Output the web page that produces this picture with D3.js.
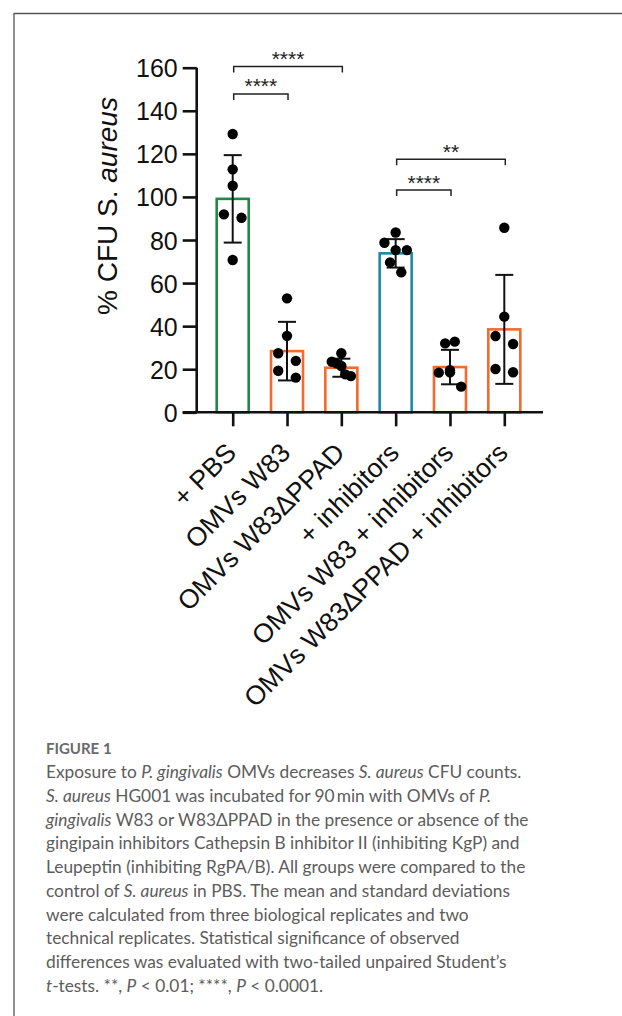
<!DOCTYPE html>
<html>
<head>
<meta charset="utf-8">
<script src="https://cdn.jsdelivr.net/npm/d3@7"></script>
<style>
  html, body { margin: 0; padding: 0; background: #fff; }
  svg { display: block; }
</style>
</head>
<body>
<svg id="chart" width="622" height="1016"></svg>
<script>
// ---------- DATA ----------
const categories = ["+ PBS", "OMVs W83", "OMVs W83\u0394PPAD", "+ inhibitors", "OMVs W83 + inhibitors", "OMVs W83\u0394PPAD + inhibitors"];
const barColors = ["#1f8a43", "#f26a2c", "#f26a2c", "#1b8aa8", "#f26a2c", "#f26a2c"];
const means = [99.1, 28.4, 20.7, 73.8, 21.0, 38.5];
const sds = [20.3, 13.6, 4.2, 6.6, 8.0, 25.3];
const points = [
  [129.2, 112.8, 105.2, 91.9, 90.3, 70.7],
  [52.9, 35.5, 27.4, 23.9, 19.3, 16.1],
  [27.4, 23.5, 22.7, 21.5, 17.6, 16.8],
  [83.5, 78.7, 75.3, 75.3, 69.6, 65.0],
  [32.0, 32.8, 18.4, 19.5, 18.6, 11.9],
  [85.7, 44.4, 35.4, 31.7, 20.1, 18.6]
];
// horizontal jitter of each dot as drawn (in units of bar half-widths)
const jitter = [
  [0, 0, 0, -0.55, 0.55, 0],
  [0, 0, -0.55, 0.55, -0.55, 0.55],
  [0, -0.6, -0.3, 0, 0.25, 0.6],
  [0, -0.7, 0, 0.7, -0.35, 0.35],
  [-0.3, 0.3, -0.7, 0, 0, 0.7],
  [0, 0, -0.55, 0.55, -0.55, 0.55]
];
const yTicks = [0, 20, 40, 60, 80, 100, 120, 140, 160];
const brackets = [
  { a: 0, b: 2, y: 160.5, label: "****" },
  { a: 0, b: 1, y: 147.8, label: "****" },
  { a: 3, b: 5, y: 117.5, label: "**" },
  { a: 3, b: 4, y: 103.2, label: "****" }
];
const captionTitle = "FIGURE 1";
const captionLines = [
  [["Exposure to ", 0], ["P. gingivalis", 1], [" OMVs decreases ", 0], ["S. aureus", 1], [" CFU counts.", 0]],
  [["S. aureus", 1], [" HG001 was incubated for 90\u2009min with OMVs of ", 0], ["P.", 1]],
  [["gingivalis", 1], [" W83 or W83\u0394PPAD in the presence or absence of the", 0]],
  [["gingipain inhibitors Cathepsin B inhibitor II (inhibiting KgP) and", 0]],
  [["Leupeptin (inhibiting RgPA/B). All groups were compared to the", 0]],
  [["control of ", 0], ["S. aureus", 1], [" in PBS. The mean and standard deviations", 0]],
  [["were calculated from three biological replicates and two", 0]],
  [["technical replicates. Statistical significance of observed", 0]],
  [["differences was evaluated with two-tailed unpaired Student\u2019s", 0]],
  [["t", 1], ["-tests. **, ", 0], ["P", 1], [" < 0.01; ****, ", 0], ["P", 1], [" < 0.0001.", 0]]
];

// ---------- LAYOUT ----------
const svg = d3.select("#chart");
const FONT = "'Liberation Sans', Arial, Helvetica, sans-serif";
const axisX = 196.7, axisY0 = 412.3, axisY1 = 67.7, axisRight = 543;

const y = d3.scaleLinear().domain([0, 160]).range([axisY0, axisY1]);
const x = d3.scalePoint().domain(categories).range([232.7, 504.3]);
const barW = 32;

// border (top and left)
svg.append("line").attr("x1", 14).attr("x2", 622).attr("y1", 13.5).attr("y2", 13.5)
  .attr("stroke", "#555").attr("stroke-width", 1.3);
svg.append("line").attr("x1", 14).attr("x2", 14).attr("y1", 13).attr("y2", 1016)
  .attr("stroke", "#555").attr("stroke-width", 1.3);

// bars
svg.append("g").selectAll("rect").data(categories).join("rect")
  .attr("x", d => x(d) - barW / 2)
  .attr("y", (d, i) => y(means[i]))
  .attr("width", barW)
  .attr("height", (d, i) => y(0) - y(means[i]))
  .attr("fill", "none")
  .attr("stroke", (d, i) => barColors[i])
  .attr("stroke-width", 2.6);

// error bars
const eb = svg.append("g").attr("stroke", "#111").attr("stroke-width", 2);
categories.forEach((c, i) => {
  const cx = x(c);
  eb.append("line").attr("x1", cx).attr("x2", cx).attr("y1", y(means[i] + sds[i])).attr("y2", y(means[i] - sds[i]));
  eb.append("line").attr("x1", cx - 9).attr("x2", cx + 9).attr("y1", y(means[i] + sds[i])).attr("y2", y(means[i] + sds[i]));
  eb.append("line").attr("x1", cx - 9).attr("x2", cx + 9).attr("y1", y(means[i] - sds[i])).attr("y2", y(means[i] - sds[i]));
});

// dots
const dots = svg.append("g").attr("fill", "#000");
categories.forEach((c, i) => {
  points[i].forEach((v, j) => {
    dots.append("circle").attr("cx", x(c) + jitter[i][j] * 16).attr("cy", y(v)).attr("r", 5.2);
  });
});

// y axis
const yAxis = d3.axisLeft(y).tickValues(yTicks).tickSize(14).tickPadding(5);
const gy = svg.append("g").attr("transform", `translate(${axisX},0)`).call(yAxis);
gy.select(".domain").attr("stroke", "#111").attr("stroke-width", 2.6).attr("d", `M0,${axisY1}V${axisY0}`);
gy.selectAll(".tick line").attr("stroke", "#111").attr("stroke-width", 2.6);
gy.selectAll(".tick text").attr("font-family", FONT).attr("font-size", 25).attr("fill", "#111").attr("dy", "0.36em");

// x axis
const xAxis = d3.axisBottom(x).tickSize(14).tickFormat("");
const gx = svg.append("g").attr("transform", `translate(0,${axisY0})`).call(xAxis);
gx.select(".domain").remove();
gx.selectAll(".tick line").attr("stroke", "#111").attr("stroke-width", 2.6);
svg.append("line").attr("x1", axisX - 14).attr("x2", axisRight).attr("y1", axisY0).attr("y2", axisY0)
  .attr("stroke", "#111").attr("stroke-width", 2.6);

// x labels
svg.append("g").selectAll("text").data(categories).join("text")
  .attr("transform", d => `translate(${x(d) + 5},${axisY0 + 42}) rotate(-45)`)
  .attr("text-anchor", "end")
  .attr("font-family", FONT).attr("font-size", 26.5).attr("fill", "#111")
  .text(d => d);

// y title
const yt = svg.append("text")
  .attr("transform", `translate(117,206) rotate(-90)`)
  .attr("text-anchor", "middle")
  .attr("font-family", FONT).attr("font-size", 28).attr("fill", "#111");
yt.append("tspan").text("% CFU ");
yt.append("tspan").text("S. ");
yt.append("tspan").attr("font-style", "italic").text("aureus");

// significance brackets
const br = svg.append("g");
brackets.forEach(b => {
  const x1 = x(categories[b.a]) + 1, x2 = x(categories[b.b]) + 1, yy = y(b.y);
  br.append("path").attr("d", `M${x1},${yy + 6}V${yy}H${x2}V${yy + 6}`)
    .attr("fill", "none").attr("stroke", "#222").attr("stroke-width", 1.5);
  br.append("text").attr("x", (x1 + x2) / 2).attr("y", yy - 0.5)
    .attr("text-anchor", "middle").attr("font-family", FONT).attr("font-size", 21).attr("fill", "#222")
    .text(b.label);
});

// caption
svg.append("text").attr("x", 46).attr("y", 754)
  .attr("font-family", "Lato, 'Open Sans', sans-serif").attr("font-size", 15).attr("font-weight", 700)
  .attr("fill", "#6a6a6a").text(captionTitle);

const cap = svg.append("g").attr("font-family", "Lato, 'Open Sans', sans-serif").attr("fill", "#5c5c5c");
let fs = 17;
const lineEls = captionLines.map((segs, i) => {
  const t = cap.append("text").attr("x", 46).attr("y", 778.3 + i * 23.7).attr("font-size", fs);
  segs.forEach(s => t.append("tspan").attr("font-style", s[1] ? "italic" : "normal").text(s[0]));
  return t;
});
const w0 = lineEls[0].node().getComputedTextLength();
if (w0 > 0) {
  fs = fs * 476 / w0;
  lineEls.forEach(t => t.attr("font-size", fs));
}
</script>
</body>
</html>
